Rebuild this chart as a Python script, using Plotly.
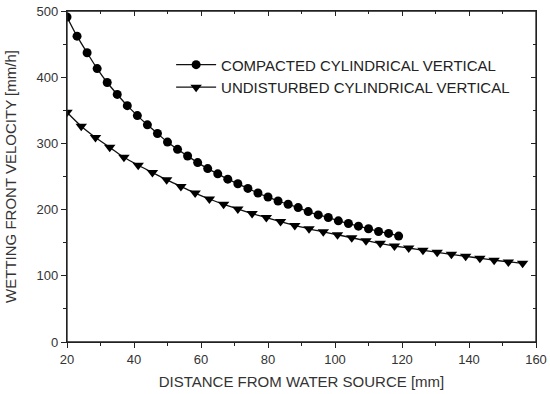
import plotly.graph_objects as go

# Compacted cylindrical vertical
x_compacted = [20 + 3 * i for i in range(34)]
v_compacted = [491, 462, 437, 413, 392, 374, 357, 342, 328, 315,
               302, 291, 281, 271, 262, 254, 246, 239, 232, 225,
               219, 213, 208, 203, 197, 192, 188, 183, 179, 175,
               171, 167, 164, 160]

# Undisturbed cylindrical vertical
x_undisturbed = [20 + 4.25 * i for i in range(33)]
v_undisturbed = [347, 326, 309, 294, 279, 267, 256, 245, 235, 225,
                 216, 208, 201, 194, 188, 182, 176, 171, 166.5, 162,
                 157.5, 153, 149, 145, 142, 138.5, 135.5, 132.5, 129.5, 126.5,
                 123.5, 121, 119]

names = ["COMPACTED CYLINDRICAL VERTICAL", "UNDISTURBED CYLINDRICAL VERTICAL"]
x_ticks = [20, 40, 60, 80, 100, 120, 140, 160]
y_ticks = [0, 100, 200, 300, 400, 500]

fig = go.Figure()
fig.add_trace(go.Scatter(
    x=x_compacted, y=v_compacted, name=names[0], mode="lines+markers",
    line=dict(color="#111111", width=1.3, shape="spline"),
    marker=dict(symbol="circle", size=9, color="#000000"),
))
fig.add_trace(go.Scatter(
    x=x_undisturbed, y=v_undisturbed, name=names[1], mode="lines+markers",
    line=dict(color="#111111", width=1.3, shape="spline"),
    marker=dict(symbol="triangle-down", size=10, color="#000000"),
))
# invisible trace on secondary axes so they render
fig.add_trace(go.Scatter(x=[x_ticks[0]], y=[y_ticks[0]], xaxis="x2", yaxis="y2",
                         mode="markers", marker=dict(opacity=0), showlegend=False,
                         hoverinfo="skip"))

tickfont = dict(family="Liberation Sans, Arial, sans-serif", size=13, color="#333333")
titlefont = dict(family="Liberation Sans, Arial, sans-serif", size=15, color="#333333")

fig.update_layout(
    width=550, height=394,
    margin=dict(l=67, r=14, t=11, b=52),
    paper_bgcolor="white", plot_bgcolor="white",
    showlegend=True,
    legend=dict(x=0.222, y=0.887, xanchor="left", yanchor="top",
                font=dict(family="Liberation Sans, Arial, sans-serif", size=15, color="#222222"),
                bgcolor="rgba(0,0,0,0)", tracegroupgap=0, itemwidth=40),
    xaxis=dict(range=[20, 160], tickvals=x_ticks, ticks="outside", ticklen=5,
               tickcolor="#222", tickwidth=1, showline=True, linecolor="#222", linewidth=1.3,
               mirror=True, ticklabeloverflow="allow",
               showgrid=False, zeroline=False, tickfont=tickfont, automargin=False,
               minor=dict(dtick=10, ticks="outside", ticklen=3, tickcolor="#222", showgrid=False),
               title=dict(text="DISTANCE FROM WATER SOURCE [mm]", font=titlefont, standoff=10)),
    yaxis=dict(range=[0, 500], tickvals=y_ticks, ticks="outside", ticklen=5,
               tickcolor="#222", tickwidth=1, showline=True, linecolor="#222", linewidth=1.3,
               mirror=True, ticklabeloverflow="allow",
               showgrid=False, zeroline=False, tickfont=tickfont, automargin=False,
               minor=dict(dtick=50, ticks="outside", ticklen=3, tickcolor="#222", showgrid=False),
               title=dict(text="WETTING FRONT VELOCITY [mm/h]", font=titlefont, standoff=16)),
    xaxis2=dict(range=[20, 160], overlaying="x", side="top", anchor="y", tickvals=x_ticks,
                ticks="inside", ticklen=5, tickcolor="#222", tickwidth=1, showticklabels=False,
                showline=True, linecolor="#222", linewidth=1.3, showgrid=False, zeroline=False,
                automargin=False,
                minor=dict(dtick=10, ticks="inside", ticklen=3, tickcolor="#222", showgrid=False)),
    yaxis2=dict(range=[0, 500], overlaying="y", side="right", anchor="x", tickvals=y_ticks,
                ticks="inside", ticklen=5, tickcolor="#222", tickwidth=1, showticklabels=False,
                showline=True, linecolor="#222", linewidth=1.3, showgrid=False, zeroline=False,
                automargin=False,
                minor=dict(dtick=50, ticks="inside", ticklen=3, tickcolor="#222", showgrid=False)),
    shapes=[dict(type="rect", xref="paper", yref="paper", x0=0, x1=1, y0=0, y1=1,
                 line=dict(color="#222222", width=1.3), fillcolor="rgba(0,0,0,0)",
                 layer="above")],
)

# remove the browser's default 8px page margin so the 550x394 figure fills the window
fig.write_html("out.html",
               config={"displayModeBar": False},
               post_script="document.body.style.margin='0';document.body.style.overflow='hidden';")
